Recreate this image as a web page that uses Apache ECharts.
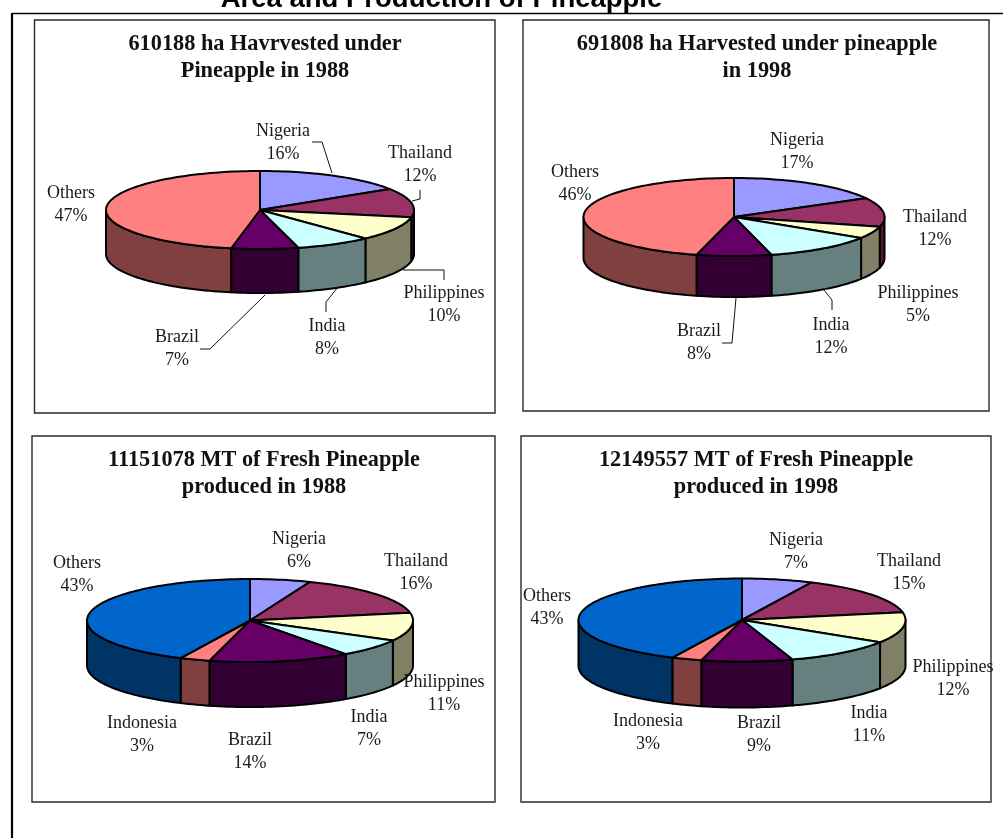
<!DOCTYPE html>
<html>
<head>
<meta charset="utf-8">
<title>Area and Production of Pineapple</title>
<script src="https://cdn.jsdelivr.net/npm/echarts@6/dist/echarts.min.js"></script>
<style>
html,body{margin:0;padding:0;background:#fff;}
#chart{width:1003px;height:838px;}
</style>
</head>
<body>
<div id="chart"></div>
<script>
// Shares in percent, clockwise from twelve o'clock
const areaCategories = ['Nigeria', 'Thailand', 'Philippines', 'India', 'Brazil', 'Others'];
const prodCategories = ['Nigeria', 'Thailand', 'Philippines', 'India', 'Brazil', 'Indonesia', 'Others'];
const area1988 = [16, 12, 10, 8, 7, 47];
const area1998 = [17, 12, 5, 12, 8, 46];
const prod1988 = [6, 16, 11, 7, 14, 3, 43];
const prod1998 = [7, 15, 12, 11, 9, 3, 43];

const mainTitle = 'Area and Production of Pineapple';
const area1988Title = '610188 ha Havrvested under\nPineapple in 1988';
const area1998Title = '691808 ha Harvested under pineapple\nin 1998';
const prod1988Title = '11151078 MT of Fresh Pineapple\nproduced in 1988';
const prod1998Title = '12149557 MT of Fresh Pineapple\nproduced in 1998';

const SERIF = '"Liberation Serif", serif';
const TOP_COLORS = {
  Nigeria: '#9999FF', Thailand: '#993366', Philippines: '#FFFFCC',
  India: '#CCFFFF', Brazil: '#660066', Indonesia: '#FF8080'
};
const SIDE_COLORS = {
  Nigeria: '#4D4D80', Thailand: '#4D1A33', Philippines: '#808066',
  India: '#668080', Brazil: '#330033', Indonesia: '#804040'
};

// One panel per pie: frame, ellipse, label anchors and leader lines
const panels = [
  {
    values: area1988, names: areaCategories, title: area1988Title,
    box: [34.5, 20, 460.5, 393], titleX: 265, titleY: 31,
    cx: 260, cy: 210, rx: 154, ry: 39, depth: 44,
    others: ['#FF8080', '#804040'],
    labels: { Nigeria: [283, 143], Thailand: [420, 165], Philippines: [444, 305], India: [327, 338], Brazil: [177, 349], Others: [71, 205] },
    leaders: [
      [[312, 142], [322, 142], [332, 173]],
      [[420, 190], [420, 199], [412, 201]],
      [[444, 280], [444, 270], [403, 270]],
      [[326, 312], [326, 302], [338, 287]],
      [[200, 349], [210, 349], [265, 295]]
    ]
  },
  {
    values: area1998, names: areaCategories, title: area1998Title,
    box: [523, 20, 466, 391], titleX: 757, titleY: 31,
    cx: 734, cy: 217, rx: 150.5, ry: 39, depth: 41,
    others: ['#FF8080', '#804040'],
    labels: { Nigeria: [797, 152], Thailand: [935, 229], Philippines: [918, 305], India: [831, 337], Brazil: [699, 343], Others: [575, 184] },
    leaders: [
      [[722, 343], [732, 343], [736, 298]],
      [[832, 310], [832, 300], [824, 290]]
    ]
  },
  {
    values: prod1988, names: prodCategories, title: prod1988Title,
    box: [32, 436, 463, 366], titleX: 264, titleY: 447,
    cx: 250, cy: 620.5, rx: 163, ry: 41.5, depth: 45,
    others: ['#0066CC', '#003366'],
    labels: { Nigeria: [299, 551], Thailand: [416, 573], Philippines: [444, 694], India: [369, 729], Brazil: [250, 752], Indonesia: [142, 735], Others: [77, 575] },
    leaders: []
  },
  {
    values: prod1998, names: prodCategories, title: prod1998Title,
    box: [521, 436, 470, 366], titleX: 756, titleY: 447,
    cx: 742, cy: 620, rx: 163.5, ry: 41.5, depth: 46,
    others: ['#0066CC', '#003366'],
    labels: { Nigeria: [796, 552], Thailand: [909, 573], Philippines: [953, 679], India: [869, 725], Brazil: [759, 735], Indonesia: [648, 733], Others: [547, 608] },
    leaders: []
  }
];

const toAngle = (share, total) =>
  echarts.number.linearMap(share, [0, total], [0, Math.PI * 2], true);

function rimPoint(p, angle, drop) {
  return [p.cx + Math.sin(angle) * p.rx, p.cy - Math.cos(angle) * p.ry + drop];
}

function arc(p, from, to, drop) {
  const steps = Math.max(2, Math.ceil((to - from) / 0.03));
  const pts = [];
  for (let i = 0; i <= steps; i++) {
    pts.push(rimPoint(p, from + (to - from) * i / steps, drop));
  }
  return pts;
}

// Draws one slice: visible wall, top face and its two-line label
function renderSlice(p) {
  const total = p.values.reduce((a, b) => a + b, 0);
  return function (params, api) {
    const i = params.dataIndex;
    const name = p.names[i];
    const before = p.values.slice(0, i).reduce((a, b) => a + b, 0);
    const from = toAngle(before, total);
    const to = toAngle(before + api.value(0), total);
    const topColor = name === 'Others' ? p.others[0] : TOP_COLORS[name];
    const sideColor = name === 'Others' ? p.others[1] : SIDE_COLORS[name];
    const children = [];

    const wallFrom = Math.max(from, Math.PI / 2);
    const wallTo = Math.min(to, Math.PI * 1.5);
    if (wallTo > wallFrom) {
      const upper = arc(p, wallFrom, wallTo, 0);
      const lower = arc(p, wallFrom, wallTo, p.depth).reverse();
      children.push({
        type: 'polygon', z2: 1,
        shape: { points: upper.concat(lower) },
        style: { fill: sideColor, stroke: '#000', lineWidth: 2, lineJoin: 'round' }
      });
    }
    children.push({
      type: 'polygon', z2: 2,
      shape: { points: [[p.cx, p.cy]].concat(arc(p, from, to, 0)) },
      style: { fill: topColor, stroke: '#000', lineWidth: 2, lineJoin: 'round' }
    });
    children.push({
      type: 'text', z2: 4,
      style: {
        x: p.labels[name][0], y: p.labels[name][1],
        text: name + '\n' + api.value(0) + '%',
        fill: '#1a1a1a', fontFamily: SERIF, fontSize: 18, lineHeight: 22.5,
        align: 'center', verticalAlign: 'middle'
      }
    });
    return { type: 'group', children };
  };
}

const frames = panels.map(p => ({
  type: 'rect', z: 0,
  shape: { x: p.box[0], y: p.box[1], width: p.box[2], height: p.box[3] },
  style: { fill: '#fff', stroke: '#2a2a2a', lineWidth: 1.4 }
}));

const leaderLines = panels.flatMap(p => p.leaders.map(points => ({
  type: 'polyline', z: 5,
  shape: { points },
  style: { fill: null, stroke: '#111', lineWidth: 1 }
})));

const option = {
  backgroundColor: '#fff',
  animation: false,
  title: [
    {
      text: mainTitle, left: 441.5, top: -15, padding: 0, textAlign: 'center',
      textStyle: { fontFamily: '"Liberation Sans", Arial, sans-serif', fontWeight: 'bold', fontSize: 27.5, color: '#000' }
    }
  ].concat(panels.map(p => ({
    text: p.title, left: p.titleX, top: p.titleY, padding: 0, textAlign: 'center', z: 6,
    textStyle: { fontFamily: SERIF, fontWeight: 'bold', fontSize: 22.3, lineHeight: 26.5, color: '#111' }
  }))),
  graphic: [
    { type: 'line', z: 0, shape: { x1: 12, y1: 13.5, x2: 1003, y2: 13.5 }, style: { stroke: '#000', lineWidth: 1.5 } },
    { type: 'line', z: 0, shape: { x1: 12, y1: 13, x2: 12, y2: 838 }, style: { stroke: '#000', lineWidth: 2.2 } }
  ].concat(frames, leaderLines),
  series: panels.map((p, k) => ({
    type: 'custom',
    name: 'pie' + k,
    coordinateSystem: 'none',
    z: 3,
    silent: true,
    data: p.values.map(v => [v]),
    renderItem: renderSlice(p)
  }))
};

const chart = echarts.init(document.getElementById('chart'), null, { renderer: 'canvas' });
chart.setOption(option);
</script>
</body>
</html>
